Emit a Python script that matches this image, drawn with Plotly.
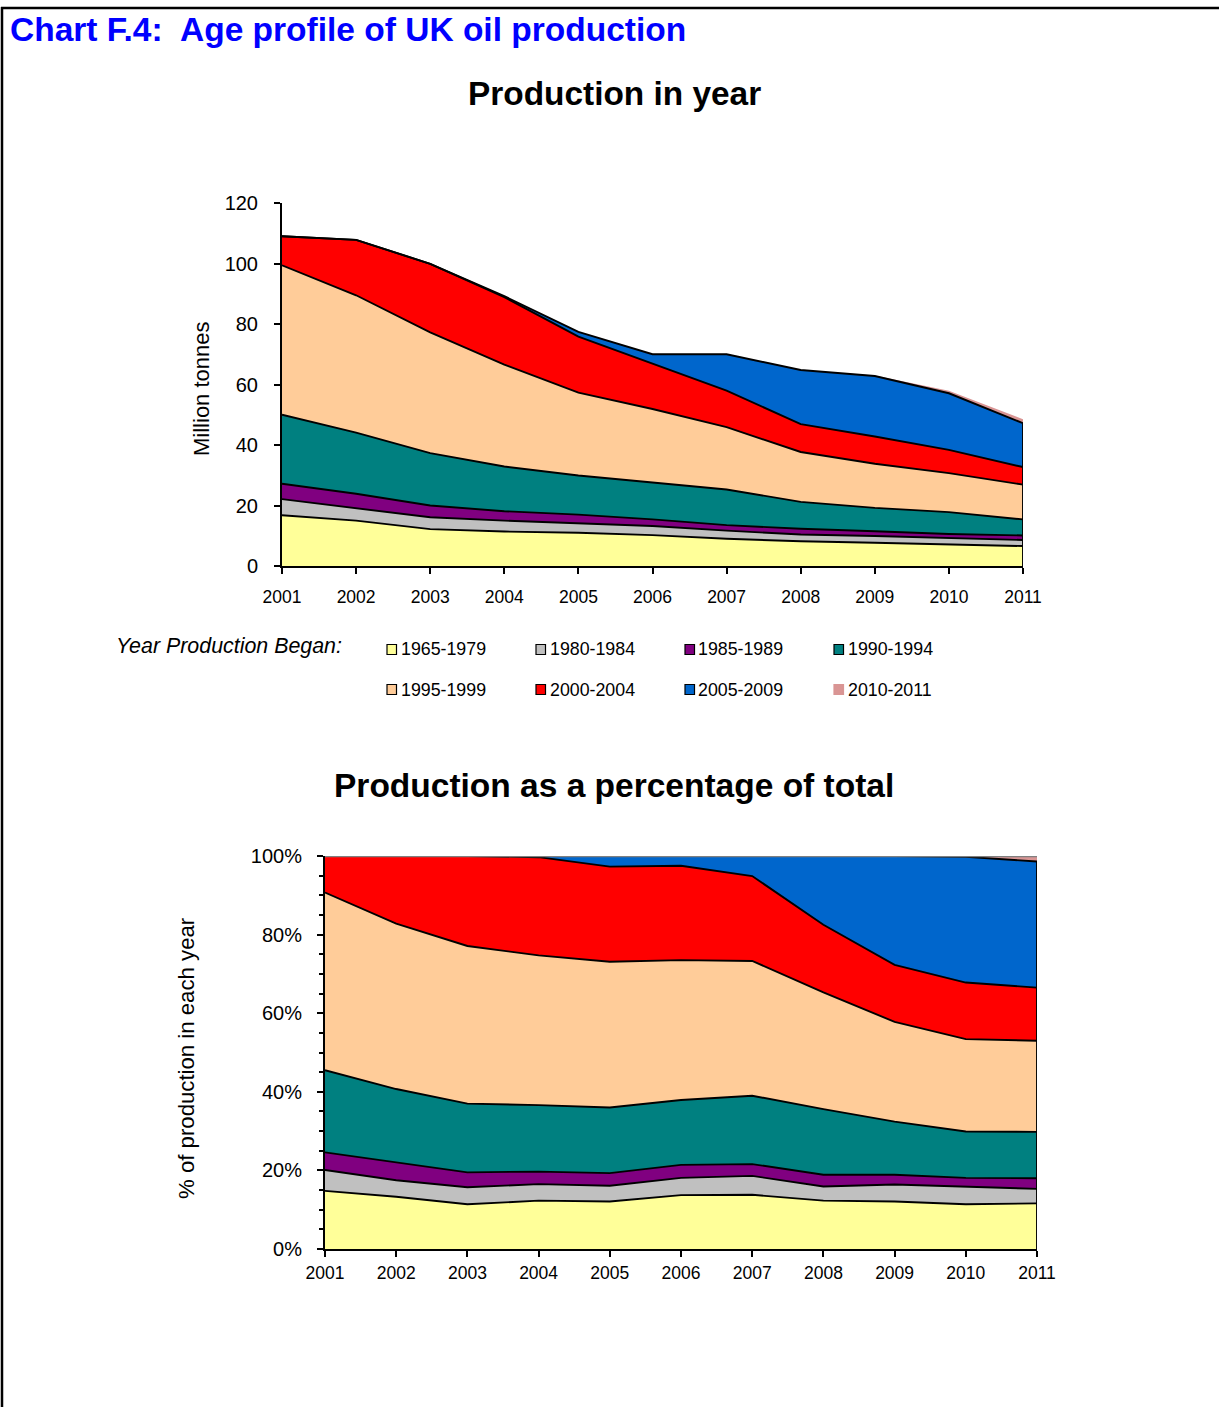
import plotly.graph_objects as go

W, H = 1219, 1407

years = [2001, 2002, 2003, 2004, 2005, 2006, 2007, 2008, 2009, 2010, 2011]
series_names = ["1965-1979", "1980-1984", "1985-1989", "1990-1994",
                "1995-1999", "2000-2004", "2005-2009", "2010-2011"]
series_colors = ["#FFFF99", "#C0C0C0", "#800080", "#008080",
                 "#FFCC99", "#FF0000", "#0066CC", "#D99594"]

# Production in year (million tonnes), by year production began
prod_1965_1979 = [16.8, 15.0, 12.2, 11.4, 11.0, 10.2, 9.0, 8.2, 7.7, 7.2, 6.6]
prod_1980_1984 = [5.3, 4.2, 3.9, 3.6, 3.1, 3.0, 2.7, 2.2, 2.2, 2.0, 2.0]
prod_1985_1989 = [5.1, 4.7, 3.9, 3.1, 2.9, 2.2, 1.8, 1.9, 1.6, 1.4, 1.5]
prod_1990_1994 = [22.8, 20.2, 17.3, 14.8, 12.9, 12.3, 11.8, 8.9, 7.7, 7.2, 5.3]
prod_1995_1999 = [49.4, 45.4, 39.9, 33.7, 27.4, 24.2, 20.6, 16.5, 14.6, 12.9, 11.5]
prod_2000_2004 = [9.6, 18.3, 22.7, 22.3, 18.5, 15.1, 12.1, 9.2, 9.0, 7.7, 5.8]
prod_2005_2009 = [0.0, 0.0, 0.0, 0.3, 1.6, 3.0, 12.0, 17.9, 20.0, 18.7, 14.5]
prod_2010_2011 = [0.0, 0.0, 0.0, 0.0, 0.0, 0.0, 0.0, 0.0, 0.2, 0.8, 1.3]

# Production as a percentage of total
pct_1965_1979 = [14.8, 13.3, 11.4, 12.3, 12.1, 13.7, 13.8, 12.3, 12.1, 11.4, 11.6]
pct_1980_1984 = [5.3, 4.2, 4.3, 4.2, 4.0, 4.4, 4.8, 3.6, 4.3, 4.4, 3.7]
pct_1985_1989 = [4.5, 4.5, 3.8, 3.2, 3.2, 3.3, 3.0, 3.0, 2.5, 2.3, 2.7]
pct_1990_1994 = [20.9, 18.7, 17.5, 16.9, 16.7, 16.5, 17.4, 16.7, 13.5, 11.8, 11.8]
pct_1995_1999 = [45.2, 42.1, 40.1, 38.1, 37.1, 35.6, 34.3, 29.7, 25.4, 23.5, 23.2]
pct_2000_2004 = [9.3, 17.2, 22.9, 25.0, 24.2, 24.0, 21.6, 17.2, 14.5, 14.4, 13.5]
pct_2005_2009 = [0.0, 0.0, 0.0, 0.3, 2.7, 2.5, 5.1, 17.5, 27.7, 32.0, 32.1]
pct_2010_2011 = [0.0, 0.0, 0.0, 0.0, 0.0, 0.0, 0.0, 0.0, 0.0, 0.2, 1.4]

prod_series = [prod_1965_1979, prod_1980_1984, prod_1985_1989, prod_1990_1994,
               prod_1995_1999, prod_2000_2004, prod_2005_2009, prod_2010_2011]
pct_series = [pct_1965_1979, pct_1980_1984, pct_1985_1989, pct_1990_1994,
              pct_1995_1999, pct_2000_2004, pct_2005_2009, pct_2010_2011]

FONT = "Liberation Sans, Arial, sans-serif"


def px(x):
    return x / W


def py(y):
    return 1 - y / H


fig = go.Figure()

for i, (name, col) in enumerate(zip(series_names, series_colors)):
    last = i == len(series_names) - 1
    line = dict(color=col, width=0) if last else dict(color="black", width=1.9)
    fig.add_trace(go.Scatter(x=years, y=prod_series[i], name=name, mode="lines",
                             stackgroup="top", fillcolor=col, line=line,
                             xaxis="x", yaxis="y", showlegend=False))
for i, (name, col) in enumerate(zip(series_names, series_colors)):
    last = i == len(series_names) - 1
    line = dict(color=col, width=0) if last else dict(color="black", width=1.9)
    fig.add_trace(go.Scatter(x=years, y=pct_series[i], name=name, mode="lines",
                             stackgroup="bottom", fillcolor=col, line=line,
                             xaxis="x2", yaxis="y2", showlegend=False))

axis_common = dict(showline=True, linecolor="black", linewidth=2, ticks="outside",
                   tickcolor="black", tickwidth=1.5, ticklen=6, showgrid=False,
                   zeroline=False, fixedrange=True, automargin=False)

fig.update_layout(
    template="none",
    width=W, height=H, autosize=False,
    margin=dict(l=0, r=0, t=0, b=0, pad=0, autoexpand=False),
    paper_bgcolor="white", plot_bgcolor="white",
    font=dict(family=FONT, color="black"),
    showlegend=False,
    xaxis=dict(axis_common, domain=[px(282), px(1023)], range=[2001, 2011],
               tickvals=years, anchor="y", tickfont=dict(size=17.5),
               ticklabelstandoff=8),
    yaxis=dict(axis_common, domain=[py(566), py(203)], range=[0, 120], dtick=20,
               anchor="x", tickfont=dict(size=20), ticklabelstandoff=12),
    xaxis2=dict(axis_common, domain=[px(325), px(1037)], range=[2001, 2011],
                tickvals=years, anchor="y2", tickfont=dict(size=17.5),
                ticklabelstandoff=1),
    yaxis2=dict(axis_common, domain=[py(1249), py(856)], range=[0, 100], dtick=20,
                ticksuffix="%", anchor="x2", tickfont=dict(size=20),
                ticklabelstandoff=11,
                minor=dict(dtick=5, ticks="outside", ticklen=4, tickwidth=1.5,
                           tickcolor="black", showgrid=False)),
)

top_total = sum(s[-1] for s in prod_series[:-1])
bot_total = sum(s[-1] for s in pct_series[:-1])
shapes = [
    # page frame
    dict(type="line", xref="paper", yref="paper", x0=px(2), x1=px(2),
         y0=py(7), y1=py(1407), line=dict(color="black", width=2.5)),
    dict(type="line", xref="paper", yref="paper", x0=px(1), x1=px(1219),
         y0=py(8), y1=py(8), line=dict(color="black", width=2.5)),
    # right edges of stacked areas
    dict(type="line", xref="x", yref="y", x0=years[-1], x1=years[-1],
         y0=0, y1=top_total, line=dict(color="black", width=1.9)),
    dict(type="line", xref="x2", yref="y2", x0=years[-1], x1=years[-1],
         y0=0, y1=bot_total, line=dict(color="black", width=1.9)),
    # grey top border of percentage chart
    dict(type="line", xref="x2 domain", yref="y2", x0=0, x1=1, y0=100, y1=100,
         line=dict(color="#808080", width=2.5)),
]

annotations = [
    dict(text="<b>Chart F.4:  Age profile of UK oil production</b>", x=px(8), y=py(30),
         xref="paper", yref="paper", xanchor="left", yanchor="middle", showarrow=False,
         font=dict(size=33.5, color="#0000FF", family=FONT)),
    dict(text="<b>Production in year</b>", x=px(614), y=py(94), xref="paper", yref="paper",
         xanchor="center", yanchor="middle", showarrow=False, font=dict(size=33.4)),
    dict(text="<b>Production as a percentage of total</b>", x=px(614), y=py(785),
         xref="paper", yref="paper", xanchor="center", yanchor="middle", showarrow=False,
         font=dict(size=33.5)),
    dict(text="Million tonnes", x=px(201), y=py(389), xref="paper", yref="paper",
         xanchor="center", yanchor="middle", textangle=-90, showarrow=False,
         font=dict(size=22)),
    dict(text="% of production in each year", x=px(186), y=py(1058), xref="paper",
         yref="paper", xanchor="center", yanchor="middle", textangle=-90,
         showarrow=False, font=dict(size=22.2)),
    dict(text="<i>Year Production Began:</i>", x=px(114), y=py(646), xref="paper",
         yref="paper", xanchor="left", yanchor="middle", showarrow=False,
         font=dict(size=21.4)),
]

col_x = [387, 536, 685, 834]
row_y = [649.5, 689.5]
for i, (name, col) in enumerate(zip(series_names, series_colors)):
    cx = col_x[i % 4]
    cy = row_y[i // 4]
    last = i == len(series_names) - 1
    shapes.append(dict(type="rect", xref="paper", yref="paper",
                       x0=px(cx), x1=px(cx + 9.5), y0=py(cy + 5), y1=py(cy - 5),
                       fillcolor=col,
                       line=dict(color=col if last else "black", width=1.2)))
    annotations.append(dict(text=name, x=px(cx + 11.5), y=py(cy), xref="paper",
                            yref="paper", xanchor="left", yanchor="middle",
                            showarrow=False, font=dict(size=17.8)))

fig.update_layout(shapes=shapes, annotations=annotations)

post = ("document.documentElement.style.margin='0';"
        "document.documentElement.style.padding='0';"
        "document.documentElement.style.overflow='hidden';"
        "document.body.style.margin='0';"
        "document.body.style.padding='0';"
        "document.body.style.overflow='hidden';")
fig.write_html("out.html", post_script=post, config={"displayModeBar": False})
